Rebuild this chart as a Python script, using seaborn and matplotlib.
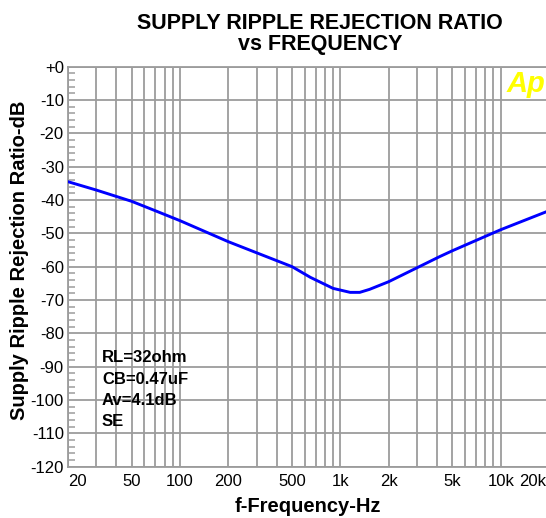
import numpy as np
import pandas as pd
import matplotlib
matplotlib.use("Agg")
import matplotlib.pyplot as plt
import matplotlib.transforms as mtransforms
from matplotlib.ticker import FixedLocator, MultipleLocator, NullFormatter
import seaborn as sns

# ---- data ----
freq_hz = [20, 30, 50, 70, 100, 200, 500, 650, 900, 1150, 1320, 1520, 2000, 3100, 4150, 5000, 8850, 10000, 20000]
psrr_db = [-34.5, -37.0, -40.4, -43.2, -46.2, -52.5, -60.0, -63.2, -66.5, -67.7, -67.7, -66.8, -64.5, -60.0, -57.0, -55.2, -50.0, -48.9, -43.2]

x_tick_values = [20, 50, 100, 200, 500, 1000, 2000, 5000, 10000, 20000]
x_tick_labels = ["20", "50", "100", "200", "500", "1k", "2k", "5k", "10k", "20k"]
y_tick_values = [0, -10, -20, -30, -40, -50, -60, -70, -80, -90, -100, -110, -120]
y_tick_labels = ["+0", "-10", "-20", "-30", "-40", "-50", "-60", "-70", "-80", "-90", "-100", "-110", "-120"]
notes = ["RL=32ohm", "CB=0.47uF", "Av=4.1dB", "SE"]

title_text = "SUPPLY RIPPLE REJECTION RATIO\nvs FREQUENCY"
x_label = "f-Frequency-Hz"
y_label = "Supply Ripple Rejection Ratio-dB"

df = pd.DataFrame({"freq": freq_hz, "psrr": psrr_db})

sns.set_style("white")
plt.rcParams["font.family"] = ["Liberation Sans", "DejaVu Sans"]
plt.rcParams["text.color"] = "black"

fig = plt.figure(figsize=(5.46, 5.18), dpi=100)
ax = fig.add_axes([68 / 546, 1 - 466.7 / 518, (549 - 68) / 546, 400 / 518])

grid_col = "#9c9c9c"

sns.lineplot(data=df, x="freq", y="psrr", ax=ax, color="#0000ff", linewidth=2.1, zorder=3)

ax.set_xscale("log")
ax.set_xlim(20, 20000)
ax.set_ylim(-120, 0)

grid_x = []
for dec in [10, 100, 1000, 10000]:
    for m in range(1, 10):
        v = m * dec
        if 20 <= v <= 20000:
            grid_x.append(v)
ax.xaxis.set_major_locator(FixedLocator(x_tick_values))
ax.xaxis.set_minor_locator(FixedLocator([g for g in grid_x if g not in x_tick_values]))
ax.xaxis.set_minor_formatter(NullFormatter())
ax.set_xticklabels(x_tick_labels)
ax.set_yticks(y_tick_values)
ax.set_yticklabels(y_tick_labels)
ax.yaxis.set_minor_locator(MultipleLocator(2))

ax.grid(True, which="major", axis="both", color=grid_col, linewidth=1.3, zorder=1)
ax.grid(True, which="minor", axis="x", color=grid_col, linewidth=1.3, zorder=1)

ax.tick_params(axis="x", which="both", length=0, pad=5, labelsize=12, colors="#000000")
ax.tick_params(axis="y", which="major", length=0, pad=3, labelsize=12, colors="#000000")
ax.tick_params(axis="y", which="minor", direction="in", length=5, width=1.1, color=grid_col, left=True)

for s in ax.spines.values():
    s.set_color(grid_col)
    s.set_linewidth(1.3)

labels = ax.get_xticklabels()
labels[0].set_horizontalalignment("left")
labels[-1].set_horizontalalignment("right")
labels[-1].set_transform(labels[-1].get_transform() +
                         mtransforms.ScaledTranslation(-3 / 100, 0, fig.dpi_scale_trans))

ax.set_xlabel("")
ax.set_ylabel("")
fig.text(308 / 546, 1 - 512 / 518, x_label, ha="center", va="baseline",
         fontsize=14.5, fontweight="bold", color="black")
fig.text(20 / 546, 1 - 260 / 518, y_label, ha="center", va="center", rotation=90,
         fontsize=14.5, fontweight="bold", color="black")

fig.text(320 / 546, 1 - 13 / 518, title_text, ha="center", va="top",
         fontsize=15.5, fontweight="bold", linespacing=1.02, color="black")

for i, t in enumerate(notes):
    fig.text(102 / 546, 1 - (358 + 21.2 * i) / 518, t,
             ha="left", va="center", fontsize=12, fontweight="bold", color="black")

fig.text(507 / 546, 1 - 84 / 518, "Ap", ha="left", va="center", fontsize=21,
         fontweight="bold", fontstyle="italic", color="#ffff00")

fig.savefig("out.png", dpi=100)
